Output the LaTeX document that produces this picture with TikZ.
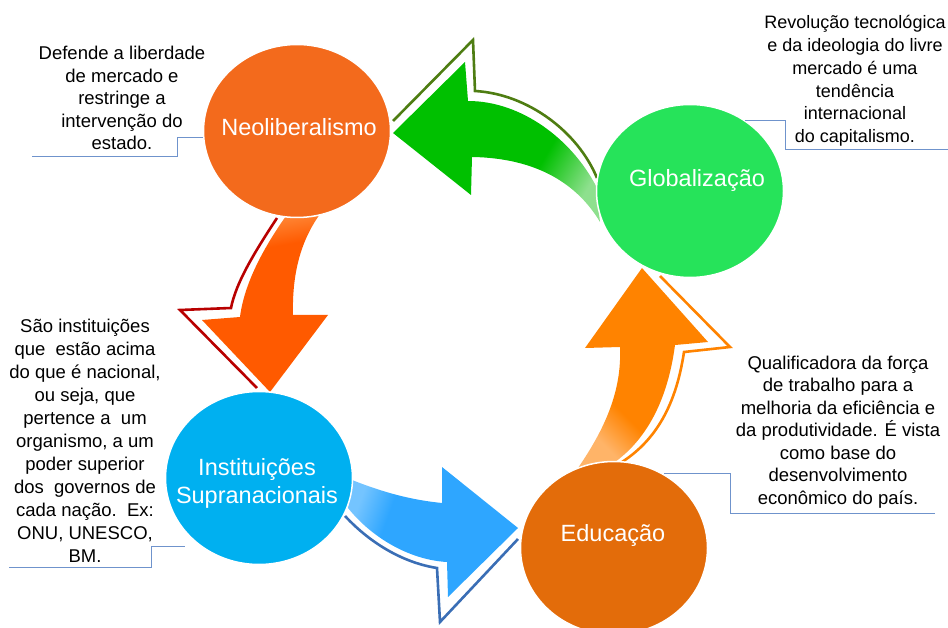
\documentclass[tikz,border=0pt]{standalone}
\usepackage{fontspec}
\setmainfont{Liberation Sans}
\usepackage{tikz}
\usetikzlibrary{shapes.geometric,positioning}
\definecolor{neocol}{HTML}{F36A1C}
\definecolor{globcol}{HTML}{26E35A}
\definecolor{instcol}{HTML}{00B0F0}
\definecolor{educol}{HTML}{E36C0A}
\definecolor{grarr}{HTML}{00C000}
\definecolor{grarrlt}{HTML}{8EE08E}
\definecolor{grline}{HTML}{4E7D12}
\definecolor{redarr}{HTML}{FF5A00}
\definecolor{redarrlt}{HTML}{FF8A3A}
\definecolor{redline}{HTML}{B80000}
\definecolor{bluarr}{HTML}{2EA6FF}
\definecolor{bluarrlt}{HTML}{74C4FF}
\definecolor{bluline}{HTML}{3A6EB5}
\definecolor{orarr}{HTML}{FF8300}
\definecolor{orarrlt}{HTML}{FFB468}
\definecolor{calloutcol}{HTML}{6F93CC}
\pgfdeclarehorizontalshading{grshade}{100bp}{color(0bp)=(grarr); color(63bp)=(grarr); color(77bp)=(grarrlt); color(100bp)=(grarrlt)}
\pgfdeclarehorizontalshading{redshade}{100bp}{color(0bp)=(redarrlt); color(25bp)=(redarrlt); color(34bp)=(redarr); color(100bp)=(redarr)}
\pgfdeclarehorizontalshading{blushade}{100bp}{color(0bp)=(bluarrlt); color(25bp)=(bluarrlt); color(35bp)=(bluarr); color(100bp)=(bluarr)}
\pgfdeclarehorizontalshading{orshade}{100bp}{color(0bp)=(orarrlt); color(25bp)=(orarrlt); color(36bp)=(orarr); color(100bp)=(orarr)}

\begin{document}
\begin{tikzpicture}[x=1pt,y=-1pt,
bubble/.style = {ellipse, draw=white, line width=1.5pt, minimum width=187pt, minimum height=173pt, inner sep=0pt},
bubtext/.style = {text=white, font=\fontsize{23.5}{28}\selectfont, align=center, inner sep=0pt},
note/.style = {align=center, font=\fontsize{18.5}{22.5}\selectfont, inner sep=0pt},
callout/.style = {draw=calloutcol, line width=1pt},
rim/.style = {line width=2.6pt, line join=miter},]
\useasboundingbox (0,0) rectangle (948,628);
\clip (0,0) rectangle (948,628);
\draw[rim, grline] (393,121) -- (473,40) -- (475,91) .. controls (528,94) and (578,132) .. (597,178);
\shade[shading=grshade, shading angle=-30] (393,133) -- (465,62) -- (468,101) .. controls (522,101) and (572,140) .. (596,186) -- (600,222) .. controls (578,185) and (538,158) .. (472,157) -- (471,195) -- cycle;
\draw[rim, redline] (277,218) .. controls (256,250) and (236,282) .. (231,308) -- (180,310) -- (257,388);
\shade[shading=redshade, shading angle=-80] (286,216) .. controls (262,250) and (244,285) .. (240,317) -- (202,320) -- (270,392) -- (328,315) -- (293,315) .. controls (292,275) and (300,242) .. (320,214) -- cycle;
\draw[rim, bluline] (345,516) .. controls (372,545) and (405,563) .. (437,568) -- (440,622) -- (518,539);
\shade[shading=blushade, shading angle=-20] (352,480) .. controls (385,493) and (412,500) .. (442,503) -- (442,467) -- (518,528) -- (448,597) -- (447,562) .. controls (410,560) and (372,538) .. (348,508) -- cycle;
\draw[rim, orarr] (660,276) -- (730,347) -- (684,352) .. controls (676,405) and (656,440) .. (622,462);
\shade[shading=orshade, shading angle=45] (642,268) -- (708,342) -- (675,345) .. controls (668,398) and (648,438) .. (615,462) -- (578,468) .. controls (604,430) and (622,392) .. (620,347) -- (585,348) -- cycle;
\node (neo) at (297,131)[bubble,fill=neocol] {};
\node (glob) at (690,191)[bubble,fill=globcol] {};
\node (inst) at (259,478)[bubble,fill=instcol] {};
\node (edu) at (614,548)[bubble,fill=educol] {};
\node (neotxt) at (299,127)[bubtext] {Neoliberalismo};
\node (globtxt) at (697,180)[bubtext] {Globalização};
\node (insttxt) at (257,483)[bubtext] {Instituições\\Supranacionais};
\node (edutxt) at (613,535)[bubtext] {Educação};
\node (neonote) at (122,98)[note] {Defende a liberdade\\de mercado e\\restringe a\\intervenção do\\estado.};
\node (globnote) at (855,81)[note,font=\fontsize{18}{22.8}\selectfont] {Revolução tecnológica\\e da ideologia do livre\\mercado é uma\\tendência\\internacional\\do capitalismo.};
\node (instnote) at (85,441)[note,font=\fontsize{18.5}{23}\selectfont] {São instituições\\que\ \ estão acima\\do que é nacional,\\ou seja, que\\pertence a\ \ um\\organismo, a um\\poder superior\\dos\ \ governos de\\cada nação.\ \ Ex:\\ONU, UNESCO,\\BM.};
\node (edunote) at (838,432)[note] {Qualificadora da força\\de trabalho para a\\melhoria da eficiência e\\da produtividade. É vista\\como base do\\desenvolvimento\\econômico do país.};
\coordinate (e1) at (32,157);
\coordinate (e2) at (948,150);
\coordinate (e3) at (9,567);
\coordinate (e4) at (935,513);
\draw[callout] (neo.184) -- ++(-26,0) |- (e1);
\draw[callout] (glob.52) -- ++(40,0) |- (e2);
\draw[callout] ([shift={(-10,4)}]inst.225) -- ++(-33,0) |- (e3);
\draw[callout] (edu.56) -- ++(67,0) |- (e4);
\end{tikzpicture}
\end{document}
